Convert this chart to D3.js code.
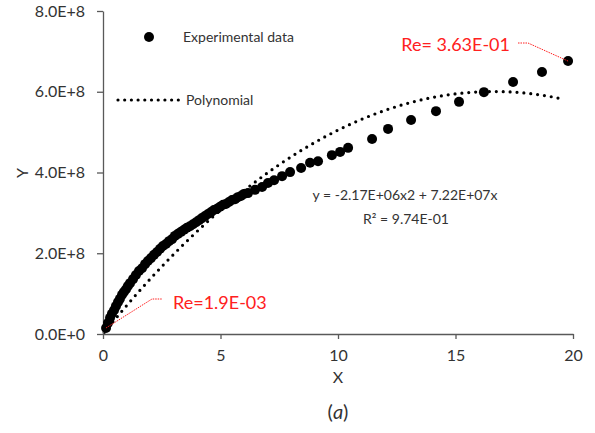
<!DOCTYPE html>
<html><head><meta charset="utf-8">
<script src="https://cdn.jsdelivr.net/npm/d3@7/dist/d3.min.js"></script>
<style>body{margin:0;background:#fff}svg{display:block}text{font-family:Lato,"Open Sans",sans-serif}</style>
</head><body>
<script>
// Experimental data: X values and Y values (×1e8)
const expX = [0.13,0.21,0.30,0.38,0.47,0.55,0.64,0.72,0.81,0.89,0.98,1.06,1.15,1.28,1.40,1.53,1.66,1.79,1.91,2.04,2.17,2.30,2.43,2.55,2.68,2.81,2.94,3.06,3.19,3.32,3.45,3.57,3.70,3.83,3.96,4.09,4.21,4.34,4.47,4.60,4.72,4.85,4.98,5.11,5.23,5.36,5.49,5.62,5.74,5.87,6.00,
  6.17,6.47,6.77,7.02,7.28,7.62,7.96,8.43,8.81,9.15,9.74,10.09,10.43,11.45,12.13,13.11,14.17,15.15,16.21,17.45,18.68,19.79];
const expY = [0.15,0.27,0.40,0.50,0.59,0.69,0.79,0.87,0.97,1.04,1.11,1.19,1.26,1.36,1.46,1.56,1.63,1.73,1.81,1.88,1.96,2.03,2.11,2.18,2.23,2.30,2.35,2.43,2.48,2.53,2.58,2.63,2.67,2.72,2.77,2.82,2.87,2.92,2.97,3.02,3.07,3.10,3.15,3.20,3.22,3.27,3.32,3.34,3.39,3.42,3.47,
  3.49,3.57,3.64,3.74,3.81,3.91,4.01,4.11,4.24,4.28,4.43,4.51,4.61,4.83,5.08,5.30,5.52,5.75,5.99,6.24,6.49,6.76];
// Polynomial trendline coefficients (from the chart's equation) and its span
const polyCoef = {a:-2.17e6, b:7.22e7};
const polyRange = [0.05, 19.55];
const xTicks = [0,5,10,15,20];
const yTicks = [0,2e8,4e8,6e8,8e8];
const yTickLabels = ["0.0E+0","2.0E+8","4.0E+8","6.0E+8","8.0E+8"];

const W=595,H=433;
const svg=d3.select("body").append("svg").attr("width",W).attr("height",H);
const x=d3.scaleLinear().domain([0,20]).range([103,573]);
const y=d3.scaleLinear().domain([0,8e8]).range([334,11]);
const axisCol="#595959", textCol="#333";

// polynomial dotted line
const polyXs=d3.range(polyRange[0],polyRange[1],0.05).concat([polyRange[1]]);
const polyPts=polyXs.map(v=>[v,polyCoef.a*v*v+polyCoef.b*v]);
svg.append("path").datum(polyPts)
  .attr("d",d3.line().x(d=>x(d[0])).y(d=>y(d[1])))
  .attr("fill","none").attr("stroke","#000").attr("stroke-width",3.2)
  .attr("stroke-linecap","round").attr("stroke-dasharray","0,6.9");

// axes
const gx=svg.append("g").attr("transform","translate(0,334)")
  .call(d3.axisBottom(x).tickValues(xTicks).tickSize(5).tickSizeOuter(0).tickPadding(11));
const gy=svg.append("g").attr("transform","translate(103,0)")
  .call(d3.axisLeft(y).tickValues(yTicks).tickSize(6).tickSizeOuter(0).tickPadding(12)
    .tickFormat((d,i)=>yTickLabels[i]));
[gx,gy].forEach(g=>{
  g.selectAll("path,line").attr("stroke",axisCol).attr("stroke-width",1.3);
  g.selectAll("text").attr("fill",textCol).style("font-size","16px").style("font-family","Lato");
});

// data points
svg.append("g").selectAll("circle").data(expX).join("circle")
  .attr("cx",(d)=>x(d)).attr("cy",(d,i)=>y(expY[i]*1e8)).attr("r",5).attr("fill","#000");

// axis titles
svg.append("text").attr("x",x(10)).attr("y",383).attr("text-anchor","middle")
  .attr("fill",textCol).style("font-size","16px").text("X");
svg.append("text").attr("transform","translate(28,173) rotate(-90)").attr("text-anchor","middle")
  .attr("fill",textCol).style("font-size","16px").text("Y");
const cap=svg.append("text").attr("x",x(10)).attr("y",419).attr("text-anchor","middle")
  .attr("fill",textCol).style("font-size","20px");
cap.append("tspan").text("(");
cap.append("tspan").style("font-style","italic").text("a");
cap.append("tspan").text(")");

// legend
svg.append("circle").attr("cx",149).attr("cy",37).attr("r",5).attr("fill","#000");
svg.append("text").attr("x",183).attr("y",42).attr("fill",textCol).style("font-size","14px").text("Experimental data");
svg.append("line").attr("x1",118).attr("x2",179).attr("y1",100).attr("y2",100)
  .attr("stroke","#000").attr("stroke-width",3.2).attr("stroke-linecap","round").attr("stroke-dasharray","0,6.7");
svg.append("text").attr("x",186).attr("y",105).attr("fill",textCol).style("font-size","14px").text("Polynomial");

// equation
svg.append("text").attr("x",405).attr("y",200).attr("text-anchor","middle").attr("fill",textCol)
  .style("font-size","14px").text("y = -2.17E+06x2 + 7.22E+07x");
svg.append("text").attr("x",406).attr("y",224).attr("text-anchor","middle").attr("fill",textCol)
  .style("font-size","14px").text("R² = 9.74E-01");

// red annotations
const red="#ff2020";
const first=[expX[0],expY[0]*1e8], last=[expX[expX.length-1],expY[expY.length-1]*1e8];
svg.append("polyline").attr("points",`${x(first[0])},${y(first[1])} 152,299 162,299`)
  .attr("fill","none").attr("stroke",red).attr("stroke-width",1).attr("stroke-dasharray","1.5,1");
svg.append("text").attr("x",173).attr("y",309).attr("fill",red).style("font-size","18px").text("Re=1.9E-03");
svg.append("polyline").attr("points",`518,43 528,43 ${x(last[0])},${y(last[1])}`)
  .attr("fill","none").attr("stroke",red).attr("stroke-width",1).attr("stroke-dasharray","1.5,1");
svg.append("text").attr("x",510).attr("y",51).attr("text-anchor","end").attr("fill",red).style("font-size","18px").text("Re= 3.63E-01");
</script>
</body></html>
